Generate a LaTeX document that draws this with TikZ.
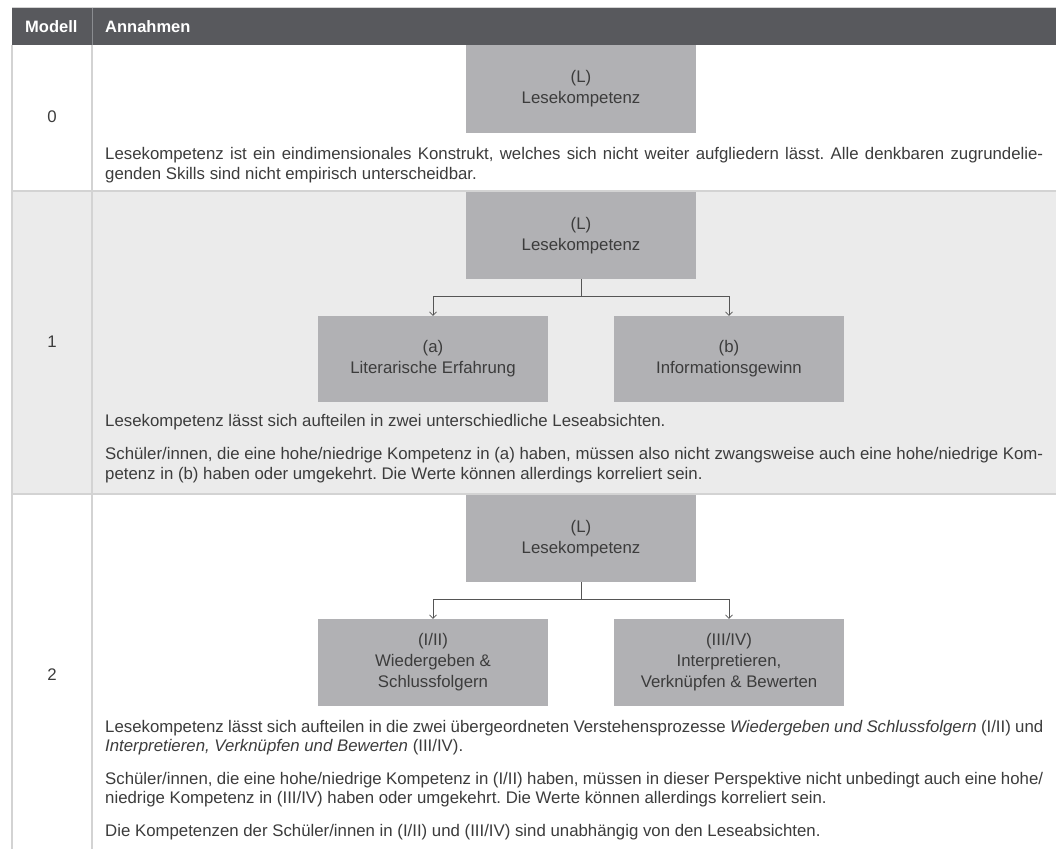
\documentclass[tikz,border=0pt]{standalone}
\usepackage{fontspec}
\setmainfont{Liberation Sans}
\usetikzlibrary{arrows.meta}
\definecolor{hdr}{HTML}{58595D}
\definecolor{hdrsep}{HTML}{8A8C90}
\definecolor{boxc}{HTML}{B1B1B4}
\definecolor{rowg}{HTML}{EBEBEB}
\definecolor{txt}{HTML}{3C3C3C}
\definecolor{sepc}{HTML}{D3D3D3}
\definecolor{linec}{HTML}{555555}
\frenchspacing
\newcommand{\bodyfont}{\fontsize{16.8}{19.4}\selectfont}
\newcommand{\jl}[1]{\hbox to 938pt{#1}}
\tikzset{
  kbox/.style={fill=boxc, minimum width=230pt, minimum height=87pt, inner sep=0pt,
    align=center, text=txt, font=\fontsize{16.8}{21}\selectfont},
  tline/.style={anchor=base west, inner sep=0pt, text=txt, font=\bodyfont},
  num/.style={inner sep=0pt, text=txt, font=\bodyfont},
  htext/.style={anchor=base west, inner sep=0pt, text=white, font=\fontsize{16.5}{19}\selectfont\bfseries},
  conn/.style={draw=linec, line width=0.7pt},
  arr/.style={conn, -{Straight Barb[length=3.5pt,width=7pt]}},
}
\begin{document}
\begin{tikzpicture}[x=1pt,y=-1pt]
\useasboundingbox (0,0) rectangle (1056,849);
\fill[white] (0,0) rectangle (1056,849);
% header
\fill[hdr] (12,7.5) rectangle (1056,45);
\draw[sepc, line width=1pt] (12,7) -- (1056,7);
\draw[hdrsep, line width=1pt] (92,7.5) -- (92,45);
% row 1 background
\fill[rowg] (12,191) rectangle (1056,494);
% separators
\draw[sepc, line width=1.5pt] (12,191) -- (1056,191);
\draw[sepc, line width=1.5pt] (12,494) -- (1056,494);
\draw[sepc, line width=1.2pt] (12,45) -- (12,849);
\draw[sepc, line width=1.2pt] (92,45) -- (92,849);

% header texts
\node[htext] (hmod) at (25,32) {Modell};
\node[htext] (hann) at (105,32) {Annahmen};

% model numbers
\node[num] (n0) at (52,117) {0};
\node[num] (n1) at (52,342) {1};
\node[num] (n2) at (52,675) {2};

% ---- Model 0
\node[kbox, minimum height=88pt] (L0) at (581,89) {(L)\\Lesekompetenz};
\node[tline] (t0a) at (105,159) {\jl{Lesekompetenz ist ein eindimensionales Konstrukt, welches sich nicht weiter aufgliedern lässt. Alle denkbaren zugrundelie-}};
\node[tline] (t0b) at (105,179) {genden Skills sind nicht empirisch unterscheidbar.};

% ---- Model 1
\node[kbox] (L1) at (581,235.5) {(L)\\Lesekompetenz};
\node[kbox, minimum height=86pt] (A1) at (433,359) {(a)\\Literarische Erfahrung};
\node[kbox, minimum height=86pt] (B1) at (729,359) {(b)\\Informationsgewinn};
\coordinate (j1) at (581,296);
\draw[conn] (L1.south) -- (j1);
\draw[arr] (j1) -| (A1.north);
\draw[arr] (j1) -| (B1.north);
\node[tline] (t1a) at (105,426) {Lesekompetenz lässt sich aufteilen in zwei unterschiedliche Leseabsichten.};
\node[tline] (t1b) at (105,459) {\jl{Schüler/innen, die eine hohe/niedrige Kompetenz in (a) haben, müssen also nicht zwangsweise auch eine hohe/niedrige Kom-}};
\node[tline] (t1c) at (105,479) {petenz in (b) haben oder umgekehrt. Die Werte können allerdings korreliert sein.};

% ---- Model 2
\node[kbox] (L2) at (581,538.5) {(L)\\Lesekompetenz};
\node[kbox] (A2) at (433,662.5) {(I/II)\\Wiedergeben \&\\Schlussfolgern};
\node[kbox] (B2) at (729,662.5) {(III/IV)\\Interpretieren,\\Verknüpfen \& Bewerten};
\coordinate (j2) at (581,599);
\draw[conn] (L2.south) -- (j2);
\draw[arr] (j2) -| (A2.north);
\draw[arr] (j2) -| (B2.north);
\node[tline] (t2a) at (105,732) {\jl{Lesekompetenz lässt sich aufteilen in die zwei übergeordneten Verstehensprozesse \textit{Wiedergeben und Schlussfolgern} (I/II) und}};
\node[tline] (t2b) at (105,751) {\textit{Interpretieren, Verknüpfen und Bewerten} (III/IV).};
\node[tline] (t2c) at (105,784) {\jl{Schüler/innen, die eine hohe/niedrige Kompetenz in (I/II) haben, müssen in dieser Perspektive nicht unbedingt auch eine hohe/}};
\node[tline] (t2d) at (105,803) {niedrige Kompetenz in (III/IV) haben oder umgekehrt. Die Werte können allerdings korreliert sein.};
\node[tline] (t2e) at (105,836) {Die Kompetenzen der Schüler/innen in (I/II) und (III/IV) sind unabhängig von den Leseabsichten.};
\end{tikzpicture}
\end{document}
